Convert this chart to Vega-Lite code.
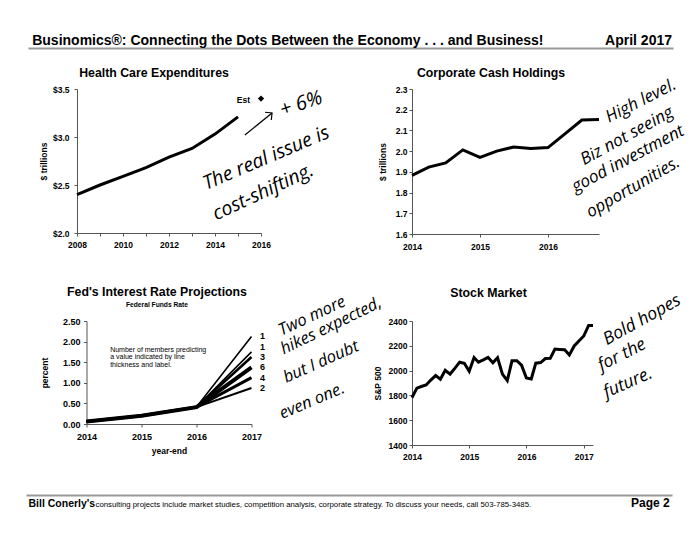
{
  "$schema": "https://vega.github.io/schema/vega-lite/v6.json",
  "background": "white",
  "padding": {"left": 26, "top": 33, "right": 5, "bottom": 5},
  "config": {
    "view": {"stroke": null},
    "font": "Liberation Sans",
    "axis": {"labelFont": "Liberation Sans", "labelFontWeight": "bold", "labelFontSize": 8.5, "labelColor": "#000", "titleFont": "Liberation Sans", "titleFontWeight": "bold", "titleFontSize": 8.5, "titleColor": "#000", "domainColor": "#555", "tickColor": "#555", "tickSize": 3, "grid": false, "labelPadding": 4, "labelFlush": false, "labelOverlap": false},
    "title": {"font": "Liberation Sans", "fontWeight": "bold", "color": "#000", "fontSize": 12.3, "anchor": "middle", "frame": "group"},
    "text": {"font": "Liberation Sans", "color": "#000"},
    "style": {"hand": {"font": "Open Sans", "fontStyle": "italic", "fontWeight": 400, "color": "#000", "align": "center", "baseline": "middle"}}
  },
  "columns": 2,
  "spacing": {"row": 87, "column": 151},
  "bounds": "flush",
  "center": {"row": false, "column": true},
  "concat": [
    {
      "width": 184, "height": 144,
      "title": {"text": "Health Care Expenditures", "dx": -15, "offset": -46.5},
      "resolve": {"scale": {"x": "independent"}, "axis": {"x": "independent"}},
      "layer": [
        {
          "data": {"values": [
            {"year": 2008, "spending": 2.40, "series": "Actual"},
            {"year": 2009, "spending": 2.50, "series": "Actual"},
            {"year": 2010, "spending": 2.59, "series": "Actual"},
            {"year": 2011, "spending": 2.68, "series": "Actual"},
            {"year": 2012, "spending": 2.79, "series": "Actual"},
            {"year": 2013, "spending": 2.88, "series": "Actual"},
            {"year": 2014, "spending": 3.03, "series": "Actual"},
            {"year": 2015, "spending": 3.21, "series": "Actual"},
            {"year": 2016, "spending": 3.40, "series": "Est"}
          ]},
          "encoding": {
            "x": {"field": "year", "type": "quantitative", "scale": {"domain": [2008, 2016]}, "axis": {"values": [2008, 2009, 2010, 2011, 2012, 2013, 2014, 2015, 2016], "format": "d", "labelExpr": "datum.value % 2 === 0 ? datum.label : ''", "title": null, "labelPadding": 4}},
            "y": {"field": "spending", "type": "quantitative", "scale": {"domain": [2.0, 3.5]}, "axis": {"values": [2.0, 2.5, 3.0, 3.5], "format": "$.1f", "title": "$ trillions", "labelPadding": 5, "titlePadding": 4}}
          },
          "layer": [
            {"transform": [{"filter": "datum.series === 'Actual'"}], "mark": {"type": "line", "color": "#000", "strokeWidth": 3}},
            {"transform": [{"filter": "datum.series === 'Est'"}], "mark": {"type": "point", "shape": "diamond", "filled": true, "color": "#000", "size": 40, "opacity": 1}},
            {"transform": [{"filter": "datum.series === 'Est'"}], "mark": {"type": "text", "align": "right", "baseline": "middle", "dx": -11, "dy": 1, "fontSize": 8.5, "fontWeight": "bold"}, "encoding": {"text": {"field": "series"}}},
            {"transform": [{"filter": "datum.year === 2008"}], "mark": {"type": "rule", "color": "#000", "strokeWidth": 1.2}, "encoding": {"x": {"datum": 2015.3}, "y": {"datum": 3.021}, "x2": {"datum": 2016.48}, "y2": {"datum": 3.25}}},
            {"transform": [{"filter": "datum.year === 2008"}], "mark": {"type": "point", "shape": "M-1,-1L0,0L-1,1", "filled": false, "color": "#000", "strokeWidth": 1.2, "size": 100, "angle": 321, "opacity": 1}, "encoding": {"x": {"datum": 2016.48}, "y": {"datum": 3.25}}},
            {"transform": [{"filter": "datum.year === 2008"}], "mark": {"type": "text", "style": "hand", "text": "+ 6%", "fontSize": 20, "angle": 342}, "encoding": {"x": {"datum": 2017.74}, "y": {"datum": 3.344}}},
            {"transform": [{"filter": "datum.year === 2008"}], "mark": {"type": "text", "style": "hand", "text": "The real issue is", "fontSize": 19.5, "angle": 337}, "encoding": {"x": {"datum": 2016.22}, "y": {"datum": 2.781}}},
            {"transform": [{"filter": "datum.year === 2008"}], "mark": {"type": "text", "style": "hand", "text": "cost-shifting.", "fontSize": 19.5, "angle": 335}, "encoding": {"x": {"datum": 2016.09}, "y": {"datum": 2.427}}}
          ]
        },
        {
          "data": {"values": [{"note": "header"}]},
          "mark": {"type": "text", "text": ""},
          "encoding": {
            "x": {"datum": 0, "type": "quantitative", "scale": {"domain": [0, 1], "range": [-49, 596]},
              "axis": {"orient": "top", "offset": 41, "values": [1], "labelExpr": "'April 2017'", "labelAlign": "right", "labelBaseline": "alphabetic", "labelPadding": 4, "labelOffset": -1.5, "labelFontSize": 14, "labelFlush": false, "labelOverlap": false, "labelBound": false, "labelLimit": 0, "ticks": false, "tickSize": 0, "domainColor": "#999", "domainWidth": 2, "grid": false,
                "title": "Businomics®: Connecting the Dots Between the Economy . . . and Business!", "titleX": -45.3, "titleY": -4, "titleAlign": "left", "titleAnchor": "start", "titleBaseline": "alphabetic", "titleAngle": 0, "titleFontSize": 14, "titleLimit": 0}}
          }
        }
      ]
    },
    {
      "width": 187, "height": 145,
      "title": {"text": "Corporate Cash Holdings", "dx": -14.5, "offset": -4.1},
      "data": {"values": [
        {"quarter": "2014-01-01", "cash": 1.883},
        {"quarter": "2014-04-01", "cash": 1.923},
        {"quarter": "2014-07-01", "cash": 1.943},
        {"quarter": "2014-10-01", "cash": 2.006},
        {"quarter": "2015-01-01", "cash": 1.970},
        {"quarter": "2015-04-01", "cash": 2.000},
        {"quarter": "2015-07-01", "cash": 2.020},
        {"quarter": "2015-10-01", "cash": 2.013},
        {"quarter": "2016-01-01", "cash": 2.017},
        {"quarter": "2016-04-01", "cash": 2.083},
        {"quarter": "2016-07-01", "cash": 2.150},
        {"quarter": "2016-10-01", "cash": 2.153}
      ]},
      "encoding": {
        "x": {"field": "quarter", "type": "temporal", "scale": {"type": "utc", "domain": [{"year": 2014, "month": 1, "date": 1, "utc": true}, {"year": 2016, "month": 10, "date": 1, "utc": true}]}, "axis": {"values": [{"year": 2014, "month": 1, "date": 1, "utc": true}, {"year": 2015, "month": 1, "date": 1, "utc": true}, {"year": 2016, "month": 1, "date": 1, "utc": true}], "format": "%Y", "title": null, "labelPadding": 5}},
        "y": {"field": "cash", "type": "quantitative", "scale": {"domain": [1.6, 2.3]}, "axis": {"values": [1.6, 1.7, 1.8, 1.9, 2.0, 2.1, 2.2, 2.3], "format": ".1f", "title": "$ trillions", "labelPadding": 2, "titlePadding": 8}}
      },
      "layer": [
        {"mark": {"type": "line", "color": "#000", "strokeWidth": 3}},
        {"transform": [{"filter": "datum.cash === 1.883"}], "mark": {"type": "text", "style": "hand", "text": "High level.", "fontSize": 17, "angle": 333}, "encoding": {"x": {"datum": {"year": 2017, "month": 5, "date": 14, "utc": true}, "type": "temporal"}, "y": {"datum": 2.242}}},
        {"transform": [{"filter": "datum.cash === 1.883"}], "mark": {"type": "text", "style": "hand", "text": "Biz not seeing", "fontSize": 17, "angle": 331}, "encoding": {"x": {"datum": {"year": 2017, "month": 2, "date": 28, "utc": true}, "type": "temporal"}, "y": {"datum": 2.073}}},
        {"transform": [{"filter": "datum.cash === 1.883"}], "mark": {"type": "text", "style": "hand", "text": "good investment", "fontSize": 17, "angle": 332}, "encoding": {"x": {"datum": {"year": 2017, "month": 3, "date": 6, "utc": true}, "type": "temporal"}, "y": {"datum": 1.962}}},
        {"transform": [{"filter": "datum.cash === 1.883"}], "mark": {"type": "text", "style": "hand", "text": "opportunities.", "fontSize": 17, "angle": 330}, "encoding": {"x": {"datum": {"year": 2017, "month": 4, "date": 2, "utc": true}, "type": "temporal"}, "y": {"datum": 1.825}}}
      ]
    },
    {
      "width": 165, "height": 103,
      "title": {"text": "Fed's Interest Rate Projections", "subtitle": "Federal Funds Rate", "dx": -12, "offset": -15.6, "subtitleFont": "Liberation Sans", "subtitleFontSize": 6.7, "subtitleFontWeight": "bold", "subtitleColor": "#000", "subtitlePadding": 3.7},
      "data": {"values": [
        {"path": "A", "members": 1, "year": 2014, "rate": 0.06},
        {"path": "A", "members": 1, "year": 2015, "rate": 0.20},
        {"path": "A", "members": 1, "year": 2016, "rate": 0.41},
        {"path": "A", "members": 1, "year": 2017, "rate": 2.125},
        {"path": "B", "members": 1, "year": 2014, "rate": 0.06},
        {"path": "B", "members": 1, "year": 2015, "rate": 0.20},
        {"path": "B", "members": 1, "year": 2016, "rate": 0.41},
        {"path": "B", "members": 1, "year": 2017, "rate": 1.75},
        {"path": "C", "members": 3, "year": 2014, "rate": 0.06},
        {"path": "C", "members": 3, "year": 2015, "rate": 0.20},
        {"path": "C", "members": 3, "year": 2016, "rate": 0.41},
        {"path": "C", "members": 3, "year": 2017, "rate": 1.625},
        {"path": "D", "members": 6, "year": 2014, "rate": 0.06},
        {"path": "D", "members": 6, "year": 2015, "rate": 0.20},
        {"path": "D", "members": 6, "year": 2016, "rate": 0.41},
        {"path": "D", "members": 6, "year": 2017, "rate": 1.375},
        {"path": "E", "members": 4, "year": 2014, "rate": 0.06},
        {"path": "E", "members": 4, "year": 2015, "rate": 0.20},
        {"path": "E", "members": 4, "year": 2016, "rate": 0.41},
        {"path": "E", "members": 4, "year": 2017, "rate": 1.125},
        {"path": "F", "members": 2, "year": 2014, "rate": 0.06},
        {"path": "F", "members": 2, "year": 2015, "rate": 0.20},
        {"path": "F", "members": 2, "year": 2016, "rate": 0.41},
        {"path": "F", "members": 2, "year": 2017, "rate": 0.875}
      ]},
      "encoding": {
        "x": {"field": "year", "type": "quantitative", "scale": {"domain": [2014, 2017]}, "axis": {"values": [2014, 2015, 2016, 2017], "format": "d", "title": "year-end", "labelFontSize": 9, "labelPadding": 5, "titlePadding": 5.5}},
        "y": {"field": "rate", "type": "quantitative", "scale": {"domain": [0, 2.5]}, "axis": {"values": [0, 0.5, 1, 1.5, 2, 2.5], "format": ".2f", "title": "percent", "labelFontSize": 9, "labelPadding": 3.5, "titlePadding": 13}}
      },
      "layer": [
        {"mark": {"type": "line", "color": "#000"}, "encoding": {"detail": {"field": "path"}, "strokeWidth": {"field": "members", "type": "quantitative", "scale": {"domain": [1, 6], "range": [1.6, 4]}, "legend": null}}},
        {"transform": [{"filter": "datum.year === 2017 && datum.path !== 'B'"}], "mark": {"type": "text", "align": "center", "baseline": "middle", "dx": 11, "fontSize": 9, "fontWeight": "bold"}, "encoding": {"text": {"field": "members"}}},
        {"transform": [{"filter": "datum.year === 2017 && datum.path === 'B'"}], "mark": {"type": "text", "align": "center", "baseline": "middle", "dx": 11, "dy": -4.5, "fontSize": 9, "fontWeight": "bold"}, "encoding": {"text": {"field": "members"}}},
        {"transform": [{"filter": "datum.path === 'A' && datum.year === 2014"}], "mark": {"type": "text", "align": "left", "baseline": "top", "lineHeight": 7.5, "fontSize": 7, "text": ["Number of members predicting", "a value indicated by line", "thickness and label."]}, "encoding": {"x": {"datum": 2014.43}, "y": {"datum": 1.9}}},
        {"transform": [{"filter": "datum.path === 'A' && datum.year === 2014"}], "mark": {"type": "text", "style": "hand", "text": "Two more", "fontSize": 16.5, "angle": 335}, "encoding": {"x": {"datum": 2018.1}, "y": {"datum": 2.62}}},
        {"transform": [{"filter": "datum.path === 'A' && datum.year === 2014"}], "mark": {"type": "text", "style": "hand", "text": "hikes expected,", "fontSize": 16.5, "angle": 334}, "encoding": {"x": {"datum": 2018.445}, "y": {"datum": 2.38}}},
        {"transform": [{"filter": "datum.path === 'A' && datum.year === 2014"}], "mark": {"type": "text", "style": "hand", "text": "but I doubt", "fontSize": 16.5, "angle": 336}, "encoding": {"x": {"datum": 2018.264}, "y": {"datum": 1.505}}},
        {"transform": [{"filter": "datum.path === 'A' && datum.year === 2014"}], "mark": {"type": "text", "style": "hand", "text": "even one.", "fontSize": 16.5, "angle": 337}, "encoding": {"x": {"datum": 2018.1}, "y": {"datum": 0.558}}}
      ]
    },
    {
      "width": 181, "height": 124,
      "title": {"text": "Stock Market", "dx": -14, "offset": -8.2},
      "resolve": {"scale": {"x": "independent"}, "axis": {"x": "independent"}},
      "layer": [
        {
          "data": {"values": [
            {"month": "2014-01-01", "sp500": 1782}, {"month": "2014-02-01", "sp500": 1859}, {"month": "2014-03-01", "sp500": 1872},
            {"month": "2014-04-01", "sp500": 1884}, {"month": "2014-05-01", "sp500": 1924}, {"month": "2014-06-01", "sp500": 1960},
            {"month": "2014-07-01", "sp500": 1931}, {"month": "2014-08-01", "sp500": 2003}, {"month": "2014-09-01", "sp500": 1972},
            {"month": "2014-10-01", "sp500": 2018}, {"month": "2014-11-01", "sp500": 2068}, {"month": "2014-12-01", "sp500": 2059},
            {"month": "2015-01-01", "sp500": 1995}, {"month": "2015-02-01", "sp500": 2105}, {"month": "2015-03-01", "sp500": 2068},
            {"month": "2015-04-01", "sp500": 2086}, {"month": "2015-05-01", "sp500": 2107}, {"month": "2015-06-01", "sp500": 2063},
            {"month": "2015-07-01", "sp500": 2104}, {"month": "2015-08-01", "sp500": 1972}, {"month": "2015-09-01", "sp500": 1920},
            {"month": "2015-10-01", "sp500": 2079}, {"month": "2015-11-01", "sp500": 2080}, {"month": "2015-12-01", "sp500": 2044},
            {"month": "2016-01-01", "sp500": 1940}, {"month": "2016-02-01", "sp500": 1932}, {"month": "2016-03-01", "sp500": 2060},
            {"month": "2016-04-01", "sp500": 2065}, {"month": "2016-05-01", "sp500": 2097}, {"month": "2016-06-01", "sp500": 2099},
            {"month": "2016-07-01", "sp500": 2174}, {"month": "2016-08-01", "sp500": 2171}, {"month": "2016-09-01", "sp500": 2168},
            {"month": "2016-10-01", "sp500": 2126}, {"month": "2016-11-01", "sp500": 2199}, {"month": "2016-12-01", "sp500": 2239},
            {"month": "2017-01-01", "sp500": 2279}, {"month": "2017-02-01", "sp500": 2364}, {"month": "2017-03-01", "sp500": 2363}
          ]},
          "encoding": {
            "x": {"field": "month", "type": "temporal", "scale": {"type": "utc", "domain": [{"year": 2014, "month": 1, "date": 1, "utc": true}, {"year": 2017, "month": 3, "date": 1, "utc": true}]}, "axis": {"values": [{"year": 2014, "month": 1, "date": 1, "utc": true}, {"year": 2015, "month": 1, "date": 1, "utc": true}, {"year": 2016, "month": 1, "date": 1, "utc": true}, {"year": 2017, "month": 1, "date": 1, "utc": true}], "format": "%Y", "title": null, "labelPadding": 4.5}},
            "y": {"field": "sp500", "type": "quantitative", "scale": {"domain": [1400, 2400]}, "axis": {"values": [1400, 1600, 1800, 2000, 2200, 2400], "format": "d", "title": "S&P 500", "labelPadding": 2, "titlePadding": 5.5}}
          },
          "layer": [
            {"mark": {"type": "line", "color": "#000", "strokeWidth": 3}},
            {"transform": [{"filter": "datum.sp500 === 1782"}], "mark": {"type": "text", "style": "hand", "text": "Bold hopes", "fontSize": 17.5, "angle": 331}, "encoding": {"x": {"datum": {"year": 2018, "month": 1, "date": 8, "utc": true}, "type": "temporal"}, "y": {"datum": 2408}}},
            {"transform": [{"filter": "datum.sp500 === 1782"}], "mark": {"type": "text", "style": "hand", "text": "for the", "fontSize": 17.5, "angle": 333}, "encoding": {"x": {"datum": {"year": 2017, "month": 9, "date": 2, "utc": true}, "type": "temporal"}, "y": {"datum": 2126}}},
            {"transform": [{"filter": "datum.sp500 === 1782"}], "mark": {"type": "text", "style": "hand", "text": "future.", "fontSize": 17.5, "angle": 336}, "encoding": {"x": {"datum": {"year": 2017, "month": 10, "date": 10, "utc": true}, "type": "temporal"}, "y": {"datum": 1900}}}
          ]
        },
        {
          "data": {"values": [{"note": "footer"}]},
          "mark": {"type": "text", "text": ""},
          "encoding": {
            "x": {"datum": 0, "type": "quantitative", "scale": {"domain": [0, 1], "range": [-386, 260]},
              "axis": {"orient": "bottom", "offset": 50, "values": [0, 1],
                "labelExpr": "datum.value === 0 ? 'consulting projects include market studies, competition analysis, corporate strategy.  To discuss your needs, call 503-785-3485.' : 'Page 2'",
                "labelAlign": {"condition": {"test": "datum.value === 0", "value": "left"}, "value": "right"},
                "labelFontSize": {"condition": {"test": "datum.value === 0", "value": 7.8}, "value": 12},
                "labelFontWeight": {"condition": {"test": "datum.value === 0", "value": "normal"}, "value": "bold"},
                "labelOffset": {"condition": {"test": "datum.value === 0", "value": 69}, "value": -2.7},
                "labelBaseline": "alphabetic", "labelPadding": 11, "labelFlush": false, "labelOverlap": false, "labelBound": false, "labelLimit": 0,
                "ticks": false, "tickSize": 0, "domainColor": "#999", "domainWidth": 2, "grid": false,
                "title": "Bill Conerly's", "titleX": -384, "titleY": 11, "titleAlign": "left", "titleAnchor": "start", "titleBaseline": "alphabetic", "titleAngle": 0, "titleFontSize": 10.5, "titleLimit": 0}}
          }
        }
      ]
    }
  ]
}
